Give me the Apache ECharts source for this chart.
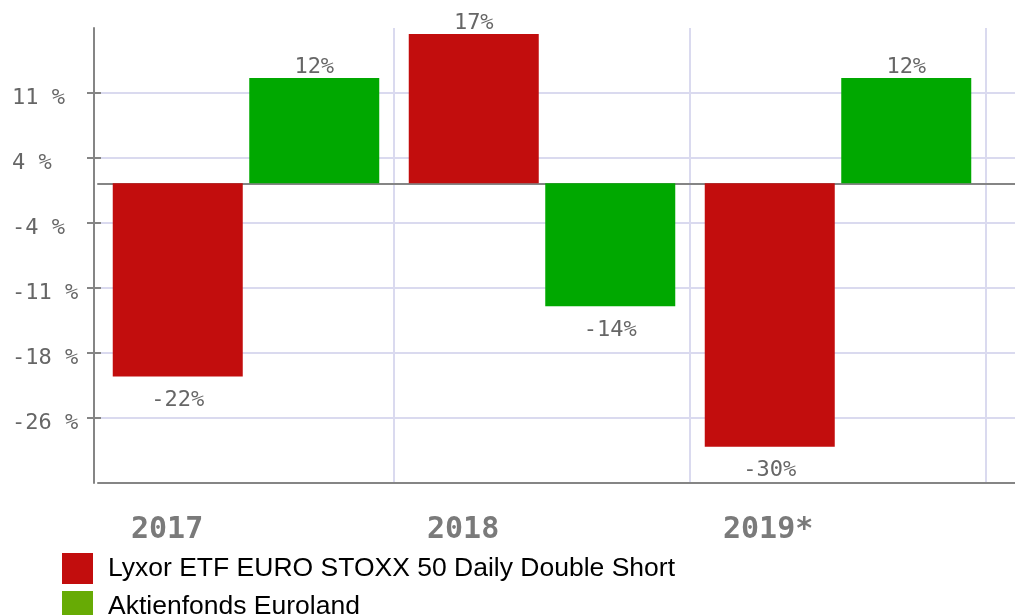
<!DOCTYPE html>
<html lang="de">
<head>
<meta charset="UTF-8">
<title>Wertentwicklung</title>
<style>
    html, body { margin: 0; padding: 0; background: #fff; }
    #container { width: 1015px; height: 615px; }
</style>
<script src="https://cdn.jsdelivr.net/npm/echarts@6/dist/echarts.min.js"></script>
</head>
<body>
<div id="container"></div>
<script>
    // Werte
    var years = ['2017', '2018', '2019*'];
    var seriesNames = ['Lyxor ETF EURO STOXX 50 Daily Double Short', 'Aktienfonds Euroland'];
    var lyxor = [-22, 17, -30];
    var euroland = [12, -14, 12];
    // Beschriftung der y-Achse, von oben nach unten
    var tickLabels = ['11 %', '4 %', '-4 %', '-11 %', '-18 %', '-26 %'];

    var barColors = ['#c20d0d', '#00a800'];
    var legendColors = ['#c20d0d', '#67ab05'];
    var mono = 'DejaVu Sans Mono';
    var gridColor = '#dadaef';
    var axisColor = '#858585';

    var myChart = echarts.init(document.getElementById('container'));

    // rechts ist das Diagramm abgeschnitten: eine leere Kategorie dahinter
    var xData = years.concat(['']);

    function barData(values) {
        return values.map(function (v) {
            return {
                value: v,
                label: {
                    position: v < 0 ? 'bottom' : 'top',
                    distance: v < 0 ? 13 : 0
                }
            };
        });
    }

    function barSeries(i, values) {
        return {
            name: seriesNames[i],
            type: 'bar',
            xAxisIndex: 0,
            yAxisIndex: 0,
            barWidth: 130,
            barGap: '5%',
            itemStyle: { color: barColors[i] },
            label: {
                show: true,
                fontFamily: mono,
                fontSize: 22,
                color: '#666',
                formatter: function (p) { return p.value + '%'; }
            },
            data: barData(values)
        };
    }

    var option = {
        animation: false,
        backgroundColor: '#fff',
        grid: { left: 98, top: 28, height: 455, width: 1184, outerBoundsMode: 'none', containLabel: false },
        legend: {
            orient: 'vertical',
            left: 62,
            top: 553,
            height: 120,
            icon: 'rect',
            itemWidth: 31,
            itemHeight: 31,
            itemGap: 7,
            padding: 0,
            selectedMode: false,
            textStyle: {
                fontFamily: 'Liberation Sans',
                fontSize: 26.5,
                color: '#000',
                padding: [0, 0, 0, 10]
            },
            data: seriesNames.map(function (n, i) {
                return { name: n, itemStyle: { color: legendColors[i] } };
            })
        },
        xAxis: [{
            type: 'category',
            data: xData,
            position: 'bottom',
            axisLine: { onZero: false, lineStyle: { color: axisColor, width: 2 } },
            axisTick: { show: false },
            splitLine: {
                show: true,
                interval: function (i) { return i > 0; },
                lineStyle: { color: gridColor, width: 2 }
            },
            axisLabel: {
                interval: 0,
                margin: 32,
                formatter: function (v) { return v ? '{a|' + v + '}' : ''; },
                rich: {
                    a: {
                        width: 230,
                        align: 'left',
                        fontFamily: mono,
                        fontWeight: 'bold',
                        fontSize: 30,
                        color: '#7a7a7a'
                    }
                }
            }
        }, {
            // Nulllinie
            type: 'category',
            data: xData,
            position: 'bottom',
            axisLine: { onZero: true, onZeroAxisIndex: 0, lineStyle: { color: axisColor, width: 2 } },
            axisTick: { show: false },
            axisLabel: { show: false },
            splitLine: { show: false }
        }],
        yAxis: [{
            // Datenachse
            type: 'value',
            position: 'left',
            min: -34.13,
            max: 17.69,
            show: false
        }, {
            // sichtbare Achse mit Gitterlinien
            type: 'value',
            position: 'left',
            offset: 4,
            min: 0,
            max: 7,
            interval: 1,
            axisLine: { show: true, onZero: false, lineStyle: { color: axisColor, width: 2 } },
            axisTick: { show: false },
            splitLine: { show: true, showMaxLine: false, lineStyle: { color: gridColor, width: 2 } },
            axisLabel: {
                align: 'left',
                verticalAlign: 'top',
                lineHeight: 11,
                margin: 82,
                showMinLabel: false,
                showMaxLabel: false,
                fontFamily: mono,
                fontSize: 22,
                color: '#666',
                formatter: function (v) {
                    var i = 6 - Math.round(v);
                    return tickLabels[i] || '';
                }
            }
        }, {
            // Teilstriche, die die Achse kreuzen
            type: 'value',
            position: 'left',
            offset: -3,
            min: 0,
            max: 7,
            interval: 1,
            axisLine: { show: false, onZero: false },
            axisTick: { show: true, length: 14, customValues: [1, 2, 3, 4, 5, 6], lineStyle: { color: axisColor, width: 2 } },
            axisLabel: { show: false },
            splitLine: { show: false }
        }],
        series: [barSeries(0, lyxor), barSeries(1, euroland)]
    };

    myChart.setOption(option);
</script>
</body>
</html>
